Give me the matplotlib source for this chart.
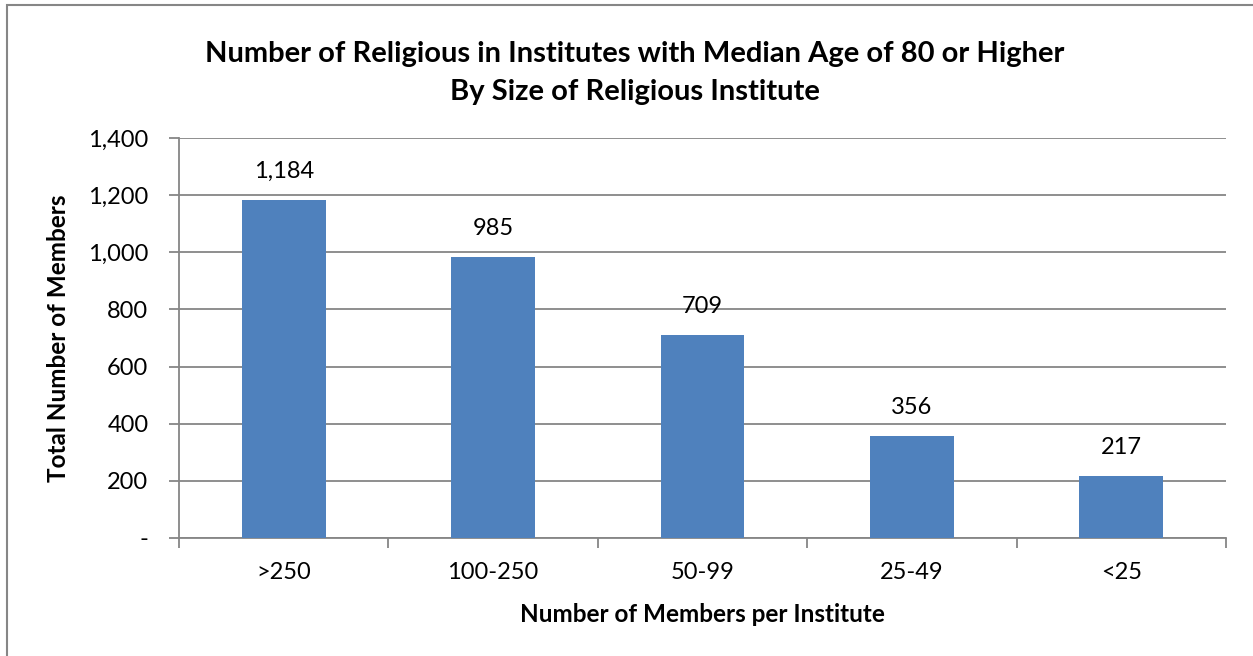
import matplotlib
matplotlib.use("Agg")
import matplotlib.pyplot as plt
from matplotlib.ticker import FuncFormatter, MultipleLocator
from matplotlib.patches import Rectangle

categories = [">250", "100-250", "50-99", "25-49", "<25"]
values = [1184, 985, 709, 356, 217]
title = "Number of Religious in Institutes with Median Age of 80 or Higher\nBy Size of Religious Institute"
xlabel = "Number of Members per Institute"
ylabel = "Total Number of Members"

plt.rcParams['font.family'] = ['Lato', 'DejaVu Sans']

W, H = 1253, 656
fig = plt.figure(figsize=(W/100, H/100), dpi=100)
ax = fig.add_axes([179/W, 1-538/H, (1226-179)/W, (538-138)/H])

grey = "#868686"
bar_color = "#4F81BD"
x = list(range(len(categories)))
bars = ax.bar(x, values, width=0.4, color=bar_color, zorder=3)
for xi, v in zip(x, values):
    ax.annotate(f"{v:,}", (xi, v), xytext=(0, 13), textcoords="offset points",
                ha="center", va="bottom", fontsize=17)

ax.set_xlim(-0.5, len(categories)-0.5)
ax.set_ylim(0, 1400)
ax.yaxis.set_major_locator(MultipleLocator(200))
ax.yaxis.set_major_formatter(FuncFormatter(lambda v, p: "-" if v == 0 else f"{int(v):,}"))
ax.grid(axis="y", color=grey, linewidth=1.3, zorder=0)
ax.set_axisbelow(True)
for s in ["top", "right"]:
    ax.spines[s].set_visible(False)
for s in ["left", "bottom"]:
    ax.spines[s].set_color(grey)
    ax.spines[s].set_linewidth(1.3)

ax.set_xticks(x)
ax.set_xticklabels(categories, fontsize=17)
ax.tick_params(axis="x", length=0, pad=17)
ax.set_xticks([i - 0.5 for i in range(len(categories)+1)], minor=True)
ax.tick_params(axis="x", which="minor", length=7, color=grey, width=1.3)
ax.tick_params(axis="y", labelsize=17, length=7, color=grey, width=1.3, pad=15)

ax.set_xlabel(xlabel, fontsize=17.5, fontweight="bold", labelpad=15)
ax.set_ylabel(ylabel, fontsize=17.5, fontweight="bold", labelpad=13)

fig.text(635/W, 1-73/H, title, ha="center", va="center", fontsize=21,
         fontweight="bold", linespacing=1.55)

fig.patches.append(Rectangle((7/W, -0.1), 1.2, 1-5/H+0.1, transform=fig.transFigure,
                             fill=False, edgecolor=grey, linewidth=1.5))

fig.savefig("out.png", dpi=100)
